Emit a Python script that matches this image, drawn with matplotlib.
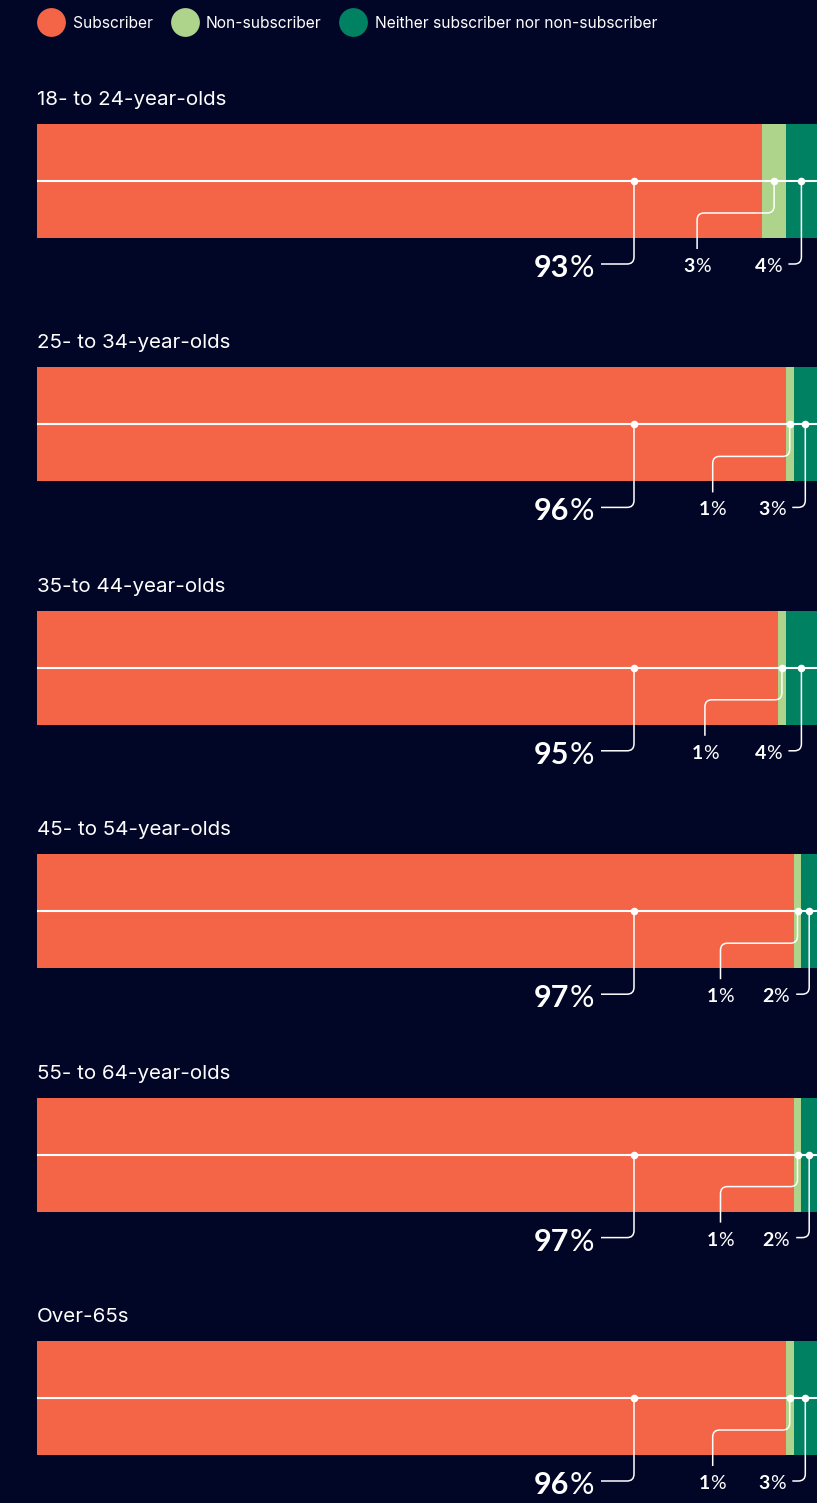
import numpy as np
import matplotlib
matplotlib.use("Agg")
import matplotlib.pyplot as plt
from matplotlib.path import Path
from matplotlib.patches import PathPatch
from matplotlib.transforms import offset_copy

groups = ["18- to 24-year-olds", "25- to 34-year-olds", "35-to 44-year-olds",
          "45- to 54-year-olds", "55- to 64-year-olds", "Over-65s"]
subscriber = [93, 96, 95, 97, 97, 96]
non_subscriber = [3, 1, 1, 1, 1, 1]
neither = [4, 3, 4, 2, 2, 3]
legend_labels = ["Subscriber", "Non-subscriber", "Neither subscriber nor non-subscriber"]

BG = "#010626"
ORANGE = "#F46548"
LIGHT = "#AED48C"
DARK = "#008262"
NUM_FONT = "Lato"
TXT_FONT = "Inter"

W, H = 817, 1503
fig = plt.figure(figsize=(W / 100, H / 100), dpi=100, facecolor=BG)

# main axes: x in percent, y in pixel rows (top down)
left_px, bar_w_px = 37, 780
ax = fig.add_axes([left_px / W, 0, bar_w_px / W, 1])
ax.set_xlim(0, 100)
ax.set_ylim(H, 0)
ax.axis("off")
px = bar_w_px / 100  # pixels per percent

# overlay in plain pixels for the legend
lax = fig.add_axes([0, 0, 1, 1], zorder=-1)
lax.set_xlim(0, W)
lax.set_ylim(H, 0)
lax.axis("off")

renderer = fig.canvas.get_renderer()


def rounded_path(pts, rx, ry):
    verts = [pts[0]]
    codes = [Path.MOVETO]
    for i in range(1, len(pts) - 1):
        (xa, ya), (xb, yb), (xc, yc) = pts[i - 1], pts[i], pts[i + 1]
        dxi, dyi = np.sign(xb - xa), np.sign(yb - ya)
        dxo, dyo = np.sign(xc - xb), np.sign(yc - yb)
        verts += [(xb - dxi * rx, yb - dyi * ry), (xb, yb), (xb + dxo * rx, yb + dyo * ry)]
        codes += [Path.LINETO, Path.CURVE3, Path.CURVE3]
    verts.append(pts[-1])
    codes.append(Path.LINETO)
    return Path(verts, codes)


def leader(pts):
    ax.add_patch(PathPatch(rounded_path(pts, 7 / px, 7), fill=False,
                           edgecolor="white", lw=1.1, zorder=4, capstyle="butt"))


def pct_label(x, y, num, size, ha):
    # bold digits followed by a regular percent sign
    t1 = ax.text(x, y, str(num), fontsize=size, fontweight="bold", color="white",
                 family=NUM_FONT, ha="left", va="baseline", zorder=5)
    t2 = ax.text(x, y, "%", fontsize=size, fontweight="normal", color="white",
                 family=NUM_FONT, ha="left", va="baseline", zorder=5)
    w1 = t1.get_window_extent(renderer).width
    w2 = t2.get_window_extent(renderer).width
    total = w1 + w2
    start = -total if ha == "right" else -total / 2
    t1.set_transform(offset_copy(ax.transData, fig=fig, x=start, y=0, units="dots"))
    t2.set_transform(offset_copy(ax.transData, fig=fig, x=start + w1, y=0, units="dots"))


# legend
for cx, tx, lab, col in zip([51, 185, 353], [73, 206, 375], legend_labels, [ORANGE, LIGHT, DARK]):
    lax.scatter([cx], [22], s=430, color=col, linewidths=0)
    lax.text(tx, 23, lab, color="white", fontsize=11.2, family=TXT_FONT, va="center", ha="left")

bar_h = 114
top0, step = 124, 243.4
sub_dot_x = (634 - left_px) / px

for i, name in enumerate(groups):
    top = top0 + i * step
    cy = top + bar_h / 2
    s, n, e = subscriber[i], non_subscriber[i], neither[i]

    ax.barh(cy, s, height=bar_h, left=0, color=ORANGE, zorder=1)
    ax.barh(cy, n, height=bar_h, left=s, color=LIGHT, zorder=1)
    ax.barh(cy, e, height=bar_h, left=s + n, color=DARK, zorder=1)
    ax.plot([0, 100], [cy, cy], color="white", lw=1.5, zorder=3, solid_capstyle="butt")

    ax.text(0, top - 24, name, color="white", fontsize=14.8, family=TXT_FONT,
            ha="left", va="center")

    xn = s + n / 2
    xe = s + n + e / 2

    # subscriber leader and label
    leader([(sub_dot_x, cy), (sub_dot_x, cy + 83), (sub_dot_x - 33 / px, cy + 83)])
    pct_label(sub_dot_x - 40 / px, cy + 96, s, 22, "right")

    # non-subscriber leader and label
    xv = xn - 77 / px
    leader([(xn, cy), (xn, cy + 32), (xv, cy + 32), (xv, cy + 68)])
    pct_label(xv, cy + 91, n, 14, "center")

    # neither leader and label
    leader([(xe, cy), (xe, cy + 83), (xe - 13 / px, cy + 83)])
    pct_label(xe - 20 / px, cy + 91, e, 14, "right")

    ax.scatter([sub_dot_x, xn, xe], [cy] * 3, s=30, color="white", zorder=6, linewidths=0)

fig.savefig("out.png", dpi=100, facecolor=BG)
